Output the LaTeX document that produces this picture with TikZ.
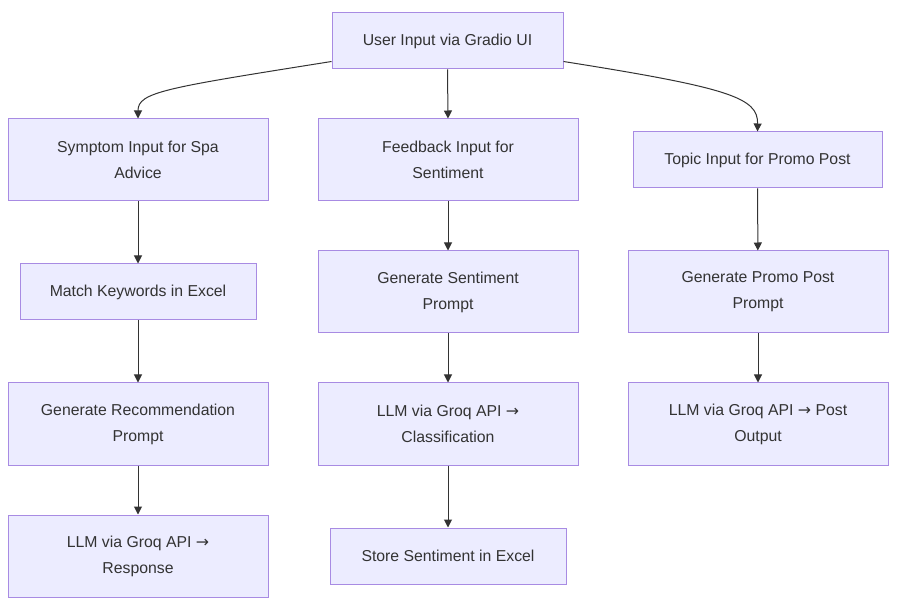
\documentclass[tikz,border=0pt]{standalone}
\usepackage{fontspec}
\setmainfont{Liberation Sans}
\newfontfamily\arrowfont{DejaVu Sans}
\newcommand{\rarr}{{\arrowfont →}}
\usetikzlibrary{arrows.meta}
\definecolor{nodefill}{HTML}{ECECFF}
\definecolor{nodeline}{HTML}{A88BE3}
\definecolor{edgecol}{HTML}{333333}
\begin{document}
\begin{tikzpicture}[x=1pt,y=-1pt,
  box/.style={draw=nodeline,fill=nodefill,line width=1pt,inner sep=0pt,font=\fontsize{15.8}{26}\selectfont,align=center,text=edgecol},
  flow/.style={draw=edgecol,line width=1pt,-{Triangle[length=8pt,width=8pt]}}]
\useasboundingbox (0,0) rectangle (903,612);
\node[box,minimum width=231,minimum height=56] (top) at (447.5,41) {User Input via Gradio UI};
\node[box,minimum width=260,minimum height=82] (sym) at (138,160) {Symptom Input for Spa\\Advice};
\node[box,minimum width=236,minimum height=56] (match) at (138,292) {Match Keywords in Excel};
\node[box,minimum width=260,minimum height=82] (rec) at (138,424) {Generate Recommendation\\Prompt};
\node[box,minimum width=260,minimum height=82] (resp) at (138,556) {LLM via Groq API \rarr\\Response};
\node[box,minimum width=260,minimum height=82] (fb) at (448,160) {Feedback Input for\\Sentiment};
\node[box,minimum width=260,minimum height=82] (gs) at (448,292) {Generate Sentiment\\Prompt};
\node[box,minimum width=260,minimum height=82] (cls) at (448,424) {LLM via Groq API \rarr\\Classification};
\node[box,minimum width=236,minimum height=56] (store) at (448,556) {Store Sentiment in Excel};
\node[box,minimum width=249,minimum height=56] (topic) at (757.5,160) {Topic Input for Promo Post};
\node[box,minimum width=260,minimum height=82] (gp) at (758,292) {Generate Promo Post\\Prompt};
\node[box,minimum width=260,minimum height=82] (post) at (758,424) {LLM via Groq API \rarr{} Post\\Output};
\coordinate (tl) at ([yshift=8]top.south west);
\coordinate (tr) at ([yshift=8]top.south east);
\draw[flow] (tl) .. controls (165,88) and (138,92) .. (sym.north);
\draw[flow] (top.south) -- (fb.north);
\draw[flow] (tr) .. controls (731,88) and (758,98) .. (topic.north);
\draw[flow] (sym) -- (match);
\draw[flow] (match) -- (rec);
\draw[flow] (rec) -- (resp);
\draw[flow] (fb) -- (gs);
\draw[flow] (gs) -- (cls);
\draw[flow] (cls) -- (store);
\draw[flow] (topic) -- (gp);
\draw[flow] (gp) -- (post);
\end{tikzpicture}
\end{document}
